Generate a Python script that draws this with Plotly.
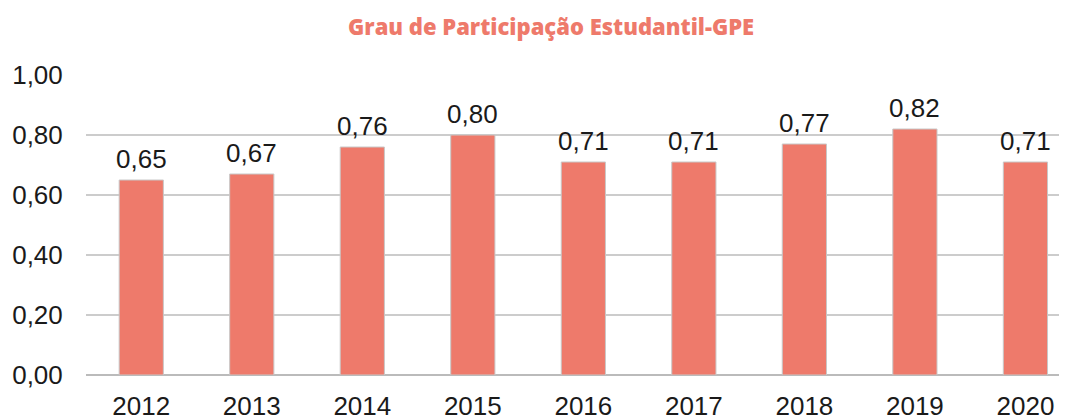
import plotly.graph_objects as go

years = ["2012", "2013", "2014", "2015", "2016", "2017", "2018", "2019", "2020"]
values = [0.65, 0.67, 0.76, 0.80, 0.71, 0.71, 0.77, 0.82, 0.71]
y_ticks = [0, 0.2, 0.4, 0.6, 0.8, 1.0]
y_tick_labels = ["0,00", "0,20", "0,40", "0,60", "0,80", "1,00"]
title = "Grau de Participação Estudantil-GPE"

bar_color = "#EE7A6B"
txt_font = dict(family="Liberation Sans, Arial, sans-serif", size=26, color="#1a1a1a")

xs = list(range(len(years)))
fig = go.Figure(go.Bar(
    x=xs,
    y=values,
    width=0.4,
    marker=dict(color=bar_color, line=dict(color="#C8C8C8", width=1)),
    hoverinfo="skip",
))

for x, v in zip(xs, values):
    fig.add_annotation(x=x, y=v, text=f"{v:.2f}".replace(".", ","), showarrow=False,
                       xanchor="center", yanchor="bottom", yshift=4, font=txt_font)

fig.update_layout(
    width=1067, height=417,
    margin=dict(l=78, r=12, t=67, b=50),
    paper_bgcolor="white", plot_bgcolor="white",
    showlegend=False,
    title=dict(text=title, x=0.509, xanchor="center", y=0.953, yanchor="middle",
               font=dict(family="Open Sans, sans-serif", size=22, weight=800, color=bar_color)),
    xaxis=dict(
        tickmode="array", tickvals=xs, ticktext=years,
        range=[-0.5, 8.34], automargin=False,
        showgrid=False, zeroline=False, showline=False,
        ticks="outside", ticklen=8, tickcolor="rgba(0,0,0,0)",
        tickfont=txt_font,
    ),
    yaxis=dict(
        tickmode="array", tickvals=y_ticks, ticktext=y_tick_labels,
        range=[0, 1.0], automargin=False,
        showgrid=True, gridcolor="#CCCCCC", gridwidth=2,
        zeroline=True, zerolinecolor="#BBBBBB", zerolinewidth=2,
        showline=False,
        ticks="outside", ticklen=17, tickcolor="rgba(0,0,0,0)",
        tickfont=txt_font,
    ),
)

fig.write_html("out.html")
